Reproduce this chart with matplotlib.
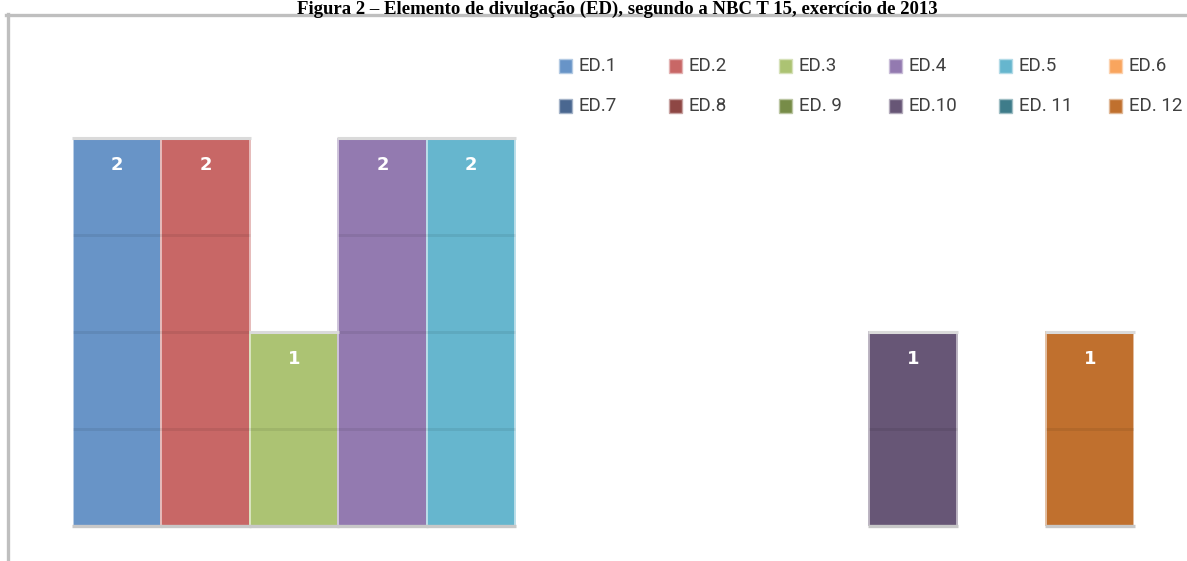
import matplotlib
matplotlib.use("Agg")
import matplotlib.pyplot as plt
from matplotlib.patches import Rectangle
from matplotlib.lines import Line2D
from matplotlib.colors import to_rgb

# elementos de divulgação e quantidade de empresas
categorias = ["ED.1", "ED.2", "ED.3", "ED.4", "ED.5", "ED.6",
              "ED.7", "ED.8", "ED. 9", "ED.10", "ED. 11", "ED. 12"]
valores = [2, 2, 1, 2, 2, 0, 0, 0, 0, 1, 0, 1]
cores = ["#6894C7", "#C86766", "#ACC373", "#937AB0", "#66B6CE", "#F9A55E",
         "#4A6790", "#8E4744", "#778C48", "#675676", "#3E7C8A", "#C0702E"]
titulo = "Figura 2 – Elemento de divulgação (ED), segundo a NBC T 15, exercício de 2013"

W, H = 1187, 561


def fx(x):
    return x / W


def fy(y):
    return 1 - y / H


def clarear(c, f):
    r, g, b = to_rgb(c)
    return (r + (1 - r) * f, g + (1 - g) * f, b + (1 - b) * f)


fig = plt.figure(figsize=(W / 100, H / 100), dpi=100)
fig.patch.set_facecolor("white")

# moldura (linha superior e esquerda)
fig.add_artist(Line2D([fx(6), fx(W)], [fy(15), fy(15)], color="#bfbfbf", lw=2.4))
fig.add_artist(Line2D([fx(7.5), fx(7.5)], [fy(14), fy(H)], color="#bfbfbf", lw=2.4))

fig.text(fx(617), fy(13.5), titulo, ha="center", va="baseline",
         fontfamily="Liberation Serif", fontweight="bold", fontsize=13.5)

ax = fig.add_axes([fx(73), fy(526), (1134 - 73) / W, 388 / H])
ax.set_xlim(-0.5, len(valores) - 0.5)
ax.set_ylim(0, 2)
ax.axis("off")

pos = list(range(len(valores)))
ax.bar(pos, valores, width=1.0, color=cores,
       edgecolor=[clarear(c, 0.55) for c in cores],
       linewidth=[1.4 if v > 0 else 0 for v in valores], zorder=2)

# linhas de grade visíveis apenas sobre as barras
for i, v in enumerate(valores):
    if v <= 0:
        continue
    nivel = 0.5
    while nivel < v:
        ax.hlines(nivel, i - 0.5, i + 0.5, color="black", alpha=0.07, lw=2.2, zorder=3)
        nivel += 0.5
    ax.hlines(v, i - 0.51, i + 0.51, color="#dadada", lw=2.2, zorder=4, clip_on=False)
    ax.hlines(0, i - 0.51, i + 0.51, color="#c8c8c8", lw=2.4, zorder=4, clip_on=False)
    ax.annotate(str(v), (i, v), xytext=(0, -19.5), textcoords="offset points",
                ha="center", va="center", color="white", fontweight="bold",
                fontsize=13, zorder=5)

# legenda em duas linhas de seis itens
for k, (nome, cor) in enumerate(zip(categorias, cores)):
    col, lin = k % 6, k // 6
    x0 = 559 + col * 110
    y0 = 66 + lin * 40
    fig.add_artist(Rectangle((fx(x0), fy(y0 + 6.5)), 13 / W, 13 / H,
                             facecolor=cor, edgecolor=clarear(cor, 0.5), lw=1.0))
    fig.text(fx(x0 + 20), fy(y0), nome, ha="left", va="center",
             color="#404040", fontsize=13.5, fontfamily="Roboto")

fig.savefig("out.png", dpi=100)
